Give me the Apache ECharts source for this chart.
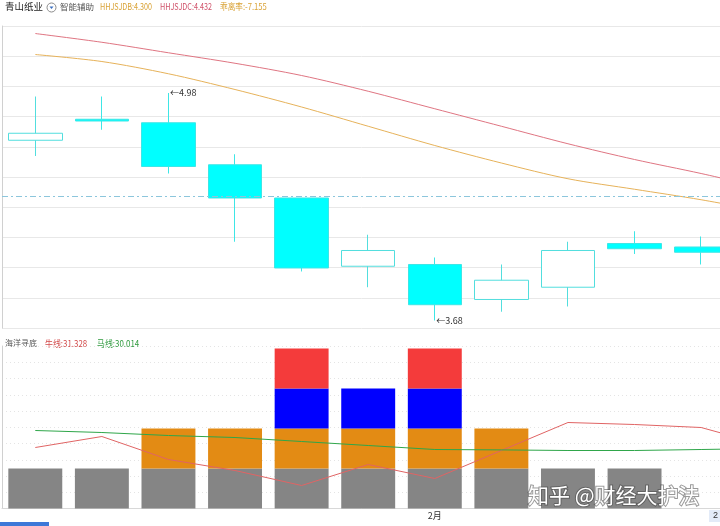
<!DOCTYPE html>
<html>
<head>
<meta charset="utf-8">
<script src="https://cdn.jsdelivr.net/npm/echarts@6/dist/echarts.min.js"></script>
<style>
  html, body { margin: 0; padding: 0; background: #fff; }
  #chart { width: 720px; height: 526px; }
</style>
</head>
<body>
<div id="chart"></div>
<script>
// categories (trading days); only the month start is labelled
const days = ['', '', '', '', '', '', '2月', '', '', '', '', ''];

// daily prices
const openPrice  = [4.71, 4.83, 4.81, 4.57, 4.38, 3.99, 4.00, 3.80, 3.87, 4.12, 4.10];
const closePrice = [4.75, 4.82, 4.56, 4.38, 3.98, 4.08, 3.77, 3.91, 4.08, 4.09, 4.07];
const lowPrice   = [4.62, 4.77, 4.52, 4.13, 3.96, 3.87, 3.68, 3.73, 3.76, 4.06, 4.00];
const highPrice  = [4.96, 4.96, 4.98, 4.63, 4.38, 4.17, 4.04, 4.00, 4.13, 4.19, 4.16];

// 智能辅助 lines (last value from the legend)
const hhjsjdb = [5.20, 5.16, 5.09, 5.00, 4.90, 4.79, 4.68, 4.58, 4.49, 4.43, 4.37, 4.300];
const hhjsjdc = [5.32, 5.27, 5.21, 5.15, 5.08, 4.99, 4.89, 4.79, 4.69, 4.60, 4.52, 4.432];
const refPrice = 4.39;

// 海洋寻底 stacked bars
const greyBar   = [20, 20, 20, 20, 20, 20, 20, 20, 20, 20, '-', '-'];
const orangeBar = ['-', '-', 20, 20, 20, 20, 20, 20, '-', '-', '-', '-'];
const blueBar   = ['-', '-', '-', '-', 20, 20, 20, '-', '-', '-', '-', '-'];
const redBar    = ['-', '-', '-', '-', 20, '-', 20, '-', '-', '-', '-', '-'];

// 牛线 / 马线
const bullLine  = [30.5, 36, 24.5, 19, 11.5, 22, 15, 29, 43, 42, 40.5, 31.328];
const horseLine = [39, 38, 36.5, 35.5, 33.5, 31.5, 29.5, 29.3, 29, 29, 29.5, 30.014];

const chart = echarts.init(document.getElementById('chart'));

const candleData = openPrice.map((o, i) => [o, closePrice[i], lowPrice[i], highPrice[i]]);

const CJK = '"Noto Sans CJK SC", sans-serif';

const hiddenCat = {
  type: 'category',
  data: days,
  axisLine: { show: false },
  axisTick: { show: false },
  axisLabel: { show: false },
  splitLine: { show: false }
};

// small legend text, squeezed a bit to mimic the narrow bitmap font
function legendText(x, y, text, color, size, squeeze) {
  return {
    type: 'text', left: x, top: y, scaleX: squeeze,
    style: { text: text, fontSize: size, fontFamily: CJK, fill: color }
  };
}

const option = {
  animation: false,
  backgroundColor: '#fff',
  textStyle: { fontFamily: CJK },
  grid: [
    { left: 2, right: -81, top: 26, height: 302, outerBoundsMode: 'none' },
    { left: 2, right: -81, top: 346, bottom: 17.5, outerBoundsMode: 'none' }
  ],
  xAxis: [
    Object.assign({ gridIndex: 0 }, hiddenCat),
    {
      type: 'category',
      gridIndex: 1,
      data: days,
      axisLine: { show: true, lineStyle: { color: '#d8d8d8' } },
      axisTick: { show: false },
      axisLabel: { interval: 0, fontSize: 9, color: '#333', margin: 3 },
      splitLine: { show: false }
    }
  ],
  yAxis: [
    {
      type: 'value', gridIndex: 0, min: 3.637, max: 5.363,
      axisLine: { show: true, lineStyle: { color: '#d0d0d0' } },
      axisTick: { show: false }, axisLabel: { show: false }, splitLine: { show: false }
    },
    {
      type: 'value', gridIndex: 0, min: 0, max: 10, interval: 1, position: 'left',
      axisLine: { show: false }, axisTick: { show: false }, axisLabel: { show: false },
      splitLine: { show: true, lineStyle: { color: '#e8e8e8' } }
    },
    {
      type: 'value', gridIndex: 1, min: 0, max: 81.25,
      axisLine: { show: true, lineStyle: { color: '#d0d0d0' } },
      axisTick: { show: false }, axisLabel: { show: false }, splitLine: { show: false }
    },
    {
      type: 'value', gridIndex: 1, min: 0, max: 10, interval: 1, position: 'left',
      axisLine: { show: false }, axisTick: { show: false }, axisLabel: { show: false },
      splitLine: { show: true, lineStyle: { color: '#e4e4e4', type: [1, 3] } }
    }
  ],
  series: [
    {
      name: '青山纸业',
      type: 'candlestick',
      xAxisIndex: 0, yAxisIndex: 0,
      barWidth: '81%',
      data: candleData,
      itemStyle: {
        color: '#ffffff',
        color0: '#00ffff',
        borderColor: '#52dede',
        borderColor0: '#3ee6e6',
        borderWidth: 1
      },
      markPoint: {
        symbol: 'rect',
        symbolSize: 1,
        itemStyle: { color: 'rgba(0,0,0,0)' },
        label: {
          show: true,
          position: 'right',
          distance: 1,
          fontSize: 9,
          color: '#333',
          formatter: p => '←' + Number(p.value).toFixed(2)
        },
        data: [
          { type: 'max', valueDim: 'highest' },
          { type: 'min', valueDim: 'lowest' }
        ]
      },
      markLine: {
        silent: true,
        symbol: 'none',
        label: { show: false },
        lineStyle: { color: '#8cc6dc', width: 1, type: [6, 3, 2, 3] },
        data: [{ yAxis: refPrice }]
      }
    },
    {
      name: 'HHJSJDC', type: 'line', xAxisIndex: 0, yAxisIndex: 0,
      data: hhjsjdc, showSymbol: false, smooth: 0.3,
      lineStyle: { color: '#df7582', width: 1 }
    },
    {
      name: 'HHJSJDB', type: 'line', xAxisIndex: 0, yAxisIndex: 0,
      data: hhjsjdb, showSymbol: false, smooth: 0.3,
      lineStyle: { color: '#e6b25a', width: 1 }
    },
    { type: 'bar', xAxisIndex: 1, yAxisIndex: 2, stack: 'sea', barWidth: '81%', data: greyBar, itemStyle: { color: '#858585' } },
    { type: 'bar', xAxisIndex: 1, yAxisIndex: 2, stack: 'sea', barWidth: '81%', data: orangeBar, itemStyle: { color: '#e38b14' } },
    { type: 'bar', xAxisIndex: 1, yAxisIndex: 2, stack: 'sea', barWidth: '81%', data: blueBar, itemStyle: { color: '#0000ff' } },
    { type: 'bar', xAxisIndex: 1, yAxisIndex: 2, stack: 'sea', barWidth: '81%', data: redBar, itemStyle: { color: '#f43b3b' } },
    {
      name: '牛线', type: 'line', xAxisIndex: 1, yAxisIndex: 2,
      data: bullLine, showSymbol: false,
      lineStyle: { color: '#e06464', width: 1 }
    },
    {
      name: '马线', type: 'line', xAxisIndex: 1, yAxisIndex: 2,
      data: horseLine, showSymbol: false,
      lineStyle: { color: '#2fa64a', width: 1 }
    }
  ],
  graphic: [
    // top legend
    legendText(5, 2, '青山纸业', '#222', 9.5, 1),
    { type: 'circle', shape: { cx: 51.5, cy: 7.5, r: 4.5 }, style: { fill: '#fff', stroke: '#8a8a8a', lineWidth: 1 } },
    { type: 'polygon', shape: { points: [[49.5, 6.5], [53.5, 6.5], [51.5, 9]] }, style: { fill: '#3a6fc0' } },
    legendText(60, 2.5, '智能辅助', '#555', 8.5, 1),
    legendText(100, 2.5, 'HHJSJDB:4.300', '#d9a235', 9, 0.8),
    legendText(160, 2.5, 'HHJSJDC:4.432', '#cf5068', 9, 0.8),
    legendText(220, 2.5, '乖离率:-7.155', '#d9a235', 9, 0.85),
    // lower legend
    legendText(5, 339, '海洋寻底', '#555', 8, 1),
    legendText(45, 339, '牛线:31.328', '#d24a4a', 9, 0.88),
    legendText(97, 339, '马线:30.014', '#2f9a3e', 9, 0.88),
    // right-edge date tag and scrollbar
    { type: 'rect', shape: { x: 709, y: 510, width: 11, height: 12 }, style: { fill: '#e3ebf8' } },
    { type: 'text', left: 713, top: 511, style: { text: '2', fontSize: 9, fill: '#333' } },
    { type: 'rect', shape: { x: 0, y: 522, width: 49, height: 4 }, style: { fill: '#3d78d8' } },
    // watermark
    {
      type: 'text', left: 527, top: 484, z: 100,
      style: {
        text: '知乎 @财经大护法', fontSize: 21, fontFamily: CJK, fill: '#ffffff',
        stroke: 'rgba(70,70,70,0.55)', lineWidth: 2
      }
    }
  ]
};

chart.setOption(option);
</script>
</body>
</html>
